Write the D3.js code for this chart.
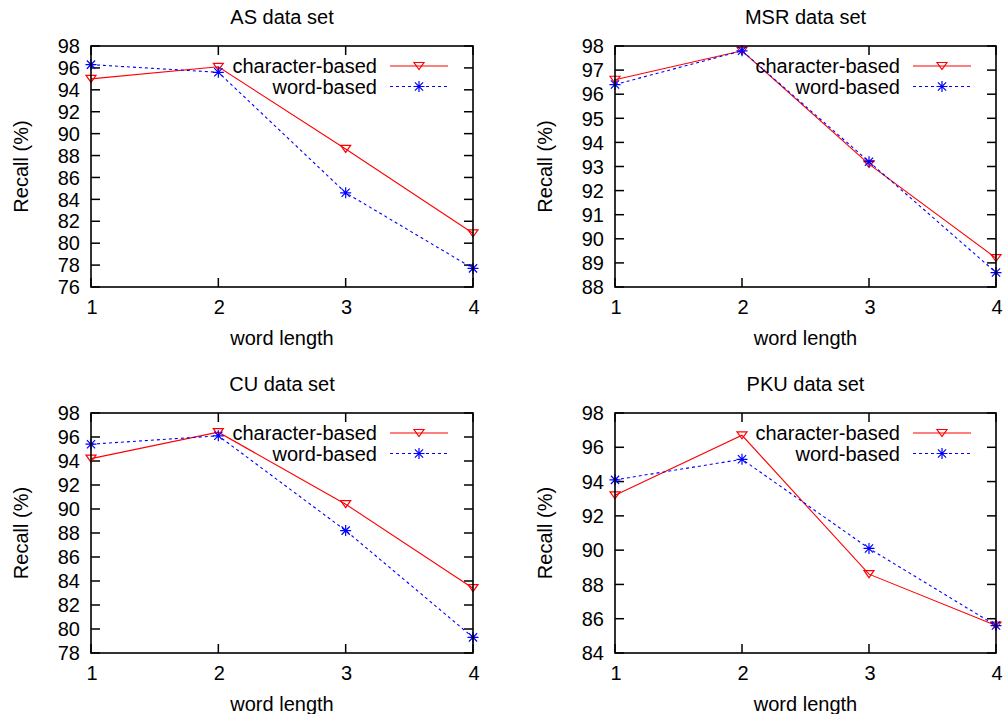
<!DOCTYPE html>
<html>
<head>
<meta charset="utf-8">
<script src="https://cdn.jsdelivr.net/npm/d3@7"></script>
<style>
	html, body { margin: 0; padding: 0; background: #fff; }
	svg { display: block; font-family: "Liberation Sans", Arial, Helvetica, sans-serif; }
</style>
</head>
<body>
<svg id="chart" width="1006" height="714"></svg>
<script>
const wordLengths = [1, 2, 3, 4];
const seriesNames = ["character-based", "word-based"];

const asChar = [95.0, 96.1, 88.6, 80.9];
const asWord = [96.3, 95.6, 84.6, 77.7];
const msrChar = [96.6, 97.8, 93.1, 89.2];
const msrWord = [96.4, 97.8, 93.2, 88.6];
const cuChar = [94.2, 96.4, 90.4, 83.4];
const cuWord = [95.4, 96.1, 88.2, 79.3];
const pkuChar = [93.2, 96.7, 88.6, 85.6];
const pkuWord = [94.1, 95.3, 90.1, 85.6];

const asTicks = [76, 78, 80, 82, 84, 86, 88, 90, 92, 94, 96, 98];
const msrTicks = [88, 89, 90, 91, 92, 93, 94, 95, 96, 97, 98];
const cuTicks = [78, 80, 82, 84, 86, 88, 90, 92, 94, 96, 98];
const pkuTicks = [84, 86, 88, 90, 92, 94, 96, 98];

const panels = [
	{ title: "AS data set", col: 0, row: 0, char: asChar, word: asWord, ticks: asTicks },
	{ title: "MSR data set", col: 1, row: 0, char: msrChar, word: msrWord, ticks: msrTicks },
	{ title: "CU data set", col: 0, row: 1, char: cuChar, word: cuWord, ticks: cuTicks },
	{ title: "PKU data set", col: 1, row: 1, char: pkuChar, word: pkuWord, ticks: pkuTicks }
];

const colX = [[91, 473], [615, 996]];
const rowY = [[46, 287], [413, 653]];
const fontSize = 20;
const tickLen = 9;

const styles = [
	{ color: "#ff0000", dash: null, marker: "tri" },
	{ color: "#0000ff", dash: "3,3", marker: "star" }
];

const svg = d3.select("#chart");

function drawMarker(g, type, cx, cy, color) {
	if (type === "tri") {
		const w = 5, h = 7;
		g.append("path")
			.attr("d", `M${cx - w},${cy - h / 2}L${cx + w},${cy - h / 2}L${cx},${cy + h / 2}Z`)
			.attr("fill", "none")
			.attr("stroke", color)
			.attr("stroke-width", 1.2);
	} else {
		const r = 5.5;
		g.append("path")
			.attr("d", `M${cx - r},${cy}L${cx + r},${cy}M${cx},${cy - r}L${cx},${cy + r}` +
				`M${cx - r * 0.75},${cy - r * 0.75}L${cx + r * 0.75},${cy + r * 0.75}` +
				`M${cx - r * 0.75},${cy + r * 0.75}L${cx + r * 0.75},${cy - r * 0.75}`)
			.attr("stroke", color)
			.attr("stroke-width", 1.2);
	}
}

panels.forEach((p) => {
	const [x0, x1] = colX[p.col];
	const [y0, y1] = rowY[p.row];
	const g = svg.append("g");

	const x = d3.scaleLinear().domain([1, 4]).range([x0, x1]);
	const y = d3.scaleLinear().domain([p.ticks[0], p.ticks[p.ticks.length - 1]]).range([y1, y0]);

	// ticks (inward, mirrored)
	const tg = g.append("g").attr("stroke", "#000").attr("stroke-width", 1.5);
	p.ticks.forEach((t) => {
		tg.append("line").attr("x1", x0).attr("x2", x0 + tickLen).attr("y1", y(t)).attr("y2", y(t));
		tg.append("line").attr("x1", x1).attr("x2", x1 - tickLen).attr("y1", y(t)).attr("y2", y(t));
	});
	wordLengths.forEach((v) => {
		tg.append("line").attr("x1", x(v)).attr("x2", x(v)).attr("y1", y1).attr("y2", y1 - tickLen);
		tg.append("line").attr("x1", x(v)).attr("x2", x(v)).attr("y1", y0).attr("y2", y0 + tickLen);
	});

	// tick labels
	g.append("g").selectAll("text").data(p.ticks).join("text")
		.attr("x", x0 - 11)
		.attr("y", (d) => y(d))
		.attr("dy", "0.36em")
		.attr("text-anchor", "end")
		.attr("font-size", fontSize)
		.text((d) => d);

	g.append("g").selectAll("text").data(wordLengths).join("text")
		.attr("x", (d) => x(d) + 1)
		.attr("y", y1 + 27)
		.attr("text-anchor", "middle")
		.attr("font-size", fontSize)
		.text((d) => d);

	// titles
	g.append("text")
		.attr("x", (x0 + x1) / 2)
		.attr("y", y0 - 22)
		.attr("text-anchor", "middle")
		.attr("font-size", fontSize)
		.text(p.title);

	g.append("text")
		.attr("x", (x0 + x1) / 2)
		.attr("y", y1 + 58)
		.attr("text-anchor", "middle")
		.attr("font-size", fontSize)
		.text("word length");

	g.append("text")
		.attr("transform", `translate(${x0 - 70},${(y0 + y1) / 2}) rotate(-90)`)
		.attr("dy", "0.36em")
		.attr("text-anchor", "middle")
		.attr("font-size", fontSize)
		.text("Recall (%)");

	// series
	const line = d3.line().x((d, i) => x(wordLengths[i])).y((d) => y(d));
	[p.char, p.word].forEach((vals, si) => {
		const st = styles[si];
		g.append("path")
			.datum(vals)
			.attr("d", line)
			.attr("fill", "none")
			.attr("stroke", st.color)
			.attr("stroke-width", 1.1)
			.attr("stroke-dasharray", st.dash);
		vals.forEach((v, i) => drawMarker(g, st.marker, x(wordLengths[i]), y(v), st.color));
	});

	// legend
	seriesNames.forEach((name, si) => {
		const st = styles[si];
		const ly = y0 + 20 + si * 20.5;
		g.append("text")
			.attr("x", x1 - 96)
			.attr("y", ly)
			.attr("dy", "0.36em")
			.attr("text-anchor", "end")
			.attr("font-size", fontSize)
			.text(name);
		g.append("line")
			.attr("x1", x1 - 83).attr("x2", x1 - 25)
			.attr("y1", ly).attr("y2", ly)
			.attr("stroke", st.color)
			.attr("stroke-width", 1.1)
			.attr("stroke-dasharray", st.dash);
		drawMarker(g, st.marker, x1 - 54, ly, st.color);
	});

	// frame
	g.append("rect")
		.attr("x", x0).attr("y", y0)
		.attr("width", x1 - x0).attr("height", y1 - y0)
		.attr("fill", "none")
		.attr("stroke", "#000")
		.attr("stroke-width", 1.6);
});
</script>
</body>
</html>
